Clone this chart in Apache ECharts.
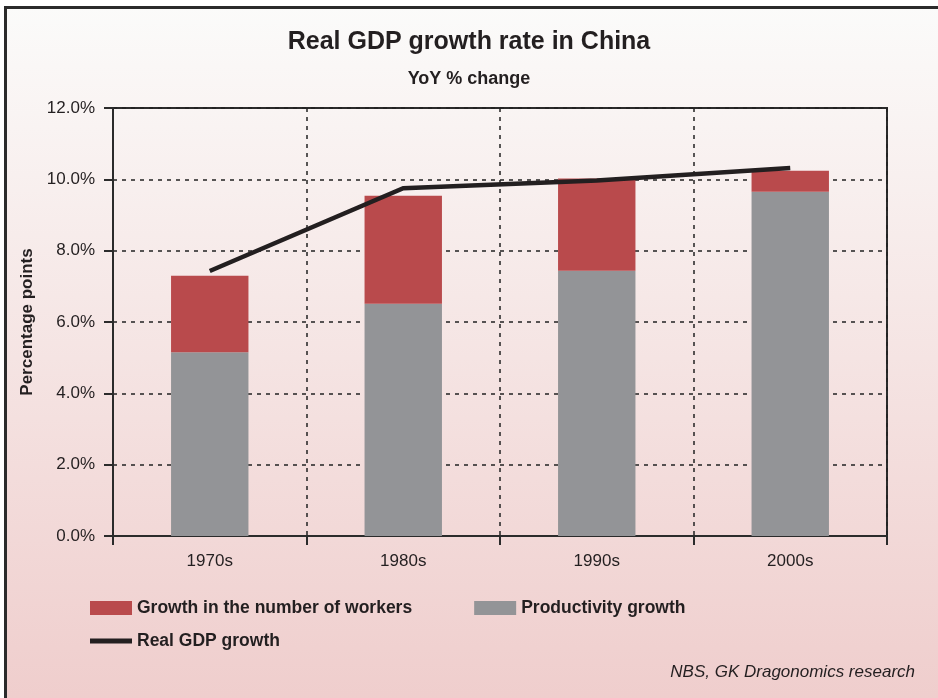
<!DOCTYPE html>
<html>
<head>
<meta charset="utf-8">
<script src="https://cdn.jsdelivr.net/npm/echarts@6/dist/echarts.min.js"></script>
<style>html,body{margin:0;padding:0;background:#fff}#c{width:938px;height:698px}</style>
</head>
<body>
<div id="c"></div>
<script>
// ---- data ----
const categories = ['1970s', '1980s', '1990s', '2000s'];
const productivityGrowth = [5.15, 6.51, 7.44, 9.65];
const workersGrowth = [2.15, 3.03, 2.58, 0.59];
const realGdpGrowth = [7.43, 9.75, 9.97, 10.32];
const yTicks = { min: 0, max: 12, interval: 2 };

const SANS = "'Liberation Sans', Arial, sans-serif";
const TXT = '#231f20';

const chart = echarts.init(document.getElementById('c'), null, { renderer: 'canvas' });
chart.setOption({
  backgroundColor: '#ffffff',
  animation: false,
  graphic: [
    {
      type: 'rect', z: -10, silent: true,
      shape: { x: 5.5, y: 7.5, width: 940, height: 700 },
      style: {
        fill: new echarts.graphic.LinearGradient(0, 0, 0, 1, [
          { offset: 0, color: '#fbfbfa' },
          { offset: 1, color: '#efcdcc' }
        ]),
        stroke: '#2b2b2b', lineWidth: 3
      }
    },
    {
      type: 'text', right: 23, top: 664, z: 10,
      style: { text: 'NBS, GK Dragonomics research', font: 'italic 17px ' + SANS, fill: TXT }
    }
  ],
  title: [
    { text: 'Real GDP growth rate in China', left: 'center', top: 25,
      textStyle: { fontFamily: SANS, fontWeight: 'bold', fontSize: 25, color: TXT } },
    { text: 'YoY % change', left: 'center', top: 65,
      textStyle: { fontFamily: SANS, fontWeight: 'bold', fontSize: 18, color: TXT } }
  ],
  legend: [
    { data: ['Growth in the number of workers', 'Productivity growth'],
      left: 85, top: 594, itemWidth: 42, itemHeight: 14, itemGap: 62, icon: 'rect',
      textStyle: { fontFamily: SANS, fontWeight: 'bold', fontSize: 17.5, color: TXT } },
    { data: ['Real GDP growth'],
      left: 85, top: 627, itemWidth: 42, itemHeight: 5, icon: 'rect',
      itemStyle: { color: '#231f20' },
      textStyle: { fontFamily: SANS, fontWeight: 'bold', fontSize: 17.5, color: TXT } }
  ],
  grid: { left: 113, right: 51, top: 108, bottom: 162, show: true, borderColor: '#2b2b2b', borderWidth: 2, backgroundColor: 'transparent' },
  xAxis: {
    type: 'category', data: categories,
    axisLine: { lineStyle: { color: '#2b2b2b', width: 2 } },
    axisTick: { show: true, length: 9, lineStyle: { color: '#2b2b2b', width: 2 } },
    axisLabel: { fontFamily: SANS, fontSize: 17, color: TXT, margin: 17 },
    splitLine: { show: true, lineStyle: { color: '#222', width: 1.5, type: [4, 5] } }
  },
  yAxis: {
    type: 'value', min: yTicks.min, max: yTicks.max, interval: yTicks.interval,
    name: 'Percentage points', nameLocation: 'middle', nameGap: 67, nameRotate: 90,
    nameTextStyle: { fontFamily: SANS, fontWeight: 'bold', fontSize: 17, color: TXT },
    axisLine: { show: true, lineStyle: { color: '#2b2b2b', width: 2 } },
    axisTick: { show: true, length: 9, lineStyle: { color: '#2b2b2b', width: 2 } },
    axisLabel: { fontFamily: SANS, fontSize: 17, color: TXT, margin: 18, formatter: v => v.toFixed(1) + '%' },
    splitLine: { show: true, lineStyle: { color: '#222', width: 1.5, type: [4, 5] } }
  },
  series: [
    { name: 'Productivity growth', type: 'bar', stack: 'g', barWidth: '40%', data: productivityGrowth,
      itemStyle: { color: '#939497' } },
    { name: 'Growth in the number of workers', type: 'bar', stack: 'g', barWidth: '40%', data: workersGrowth,
      itemStyle: { color: '#b94a4c' } },
    { name: 'Real GDP growth', type: 'line', data: realGdpGrowth, symbol: 'none', z: 5,
      lineStyle: { color: '#231f20', width: 4.5, cap: 'butt', join: 'miter' }, itemStyle: { color: '#231f20' } }
  ]
});
</script>
</body>
</html>
